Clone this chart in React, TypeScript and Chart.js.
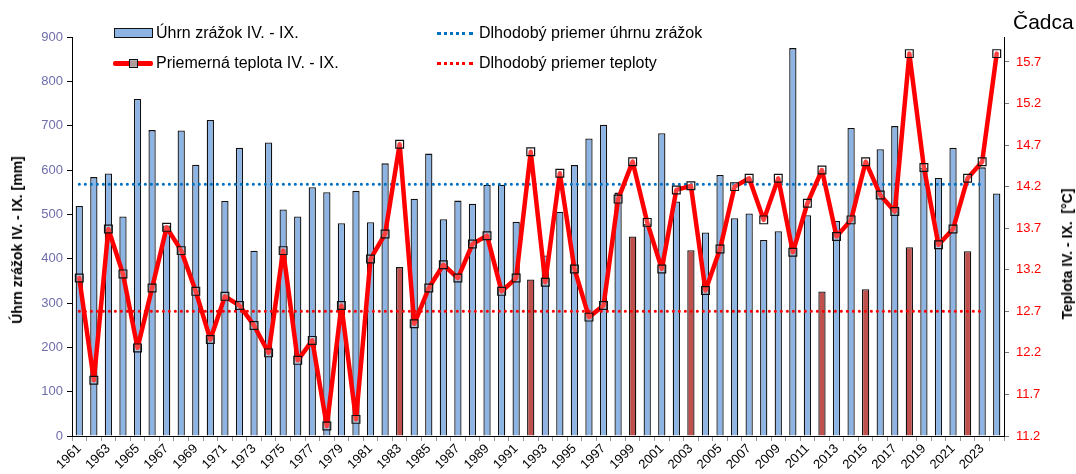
import React, { useEffect, useRef } from 'react';
import { Chart, registerables } from 'chart.js';

Chart.register(...registerables);

const years = [
  '1961', '1962', '1963', '1964', '1965', '1966', '1967', '1968', '1969', '1970',
  '1971', '1972', '1973', '1974', '1975', '1976', '1977', '1978', '1979', '1980',
  '1981', '1982', '1983', '1984', '1985', '1986', '1987', '1988', '1989', '1990',
  '1991', '1992', '1993', '1994', '1995', '1996', '1997', '1998', '1999', '2000',
  '2001', '2002', '2003', '2004', '2005', '2006', '2007', '2008', '2009', '2010',
  '2011', '2012', '2013', '2014', '2015', '2016', '2017', '2018', '2019', '2020',
  '2021', '2022', '2023', '2024',
];

const precipitation = [
  519, 584, 592, 495, 760, 690, 475, 689, 612, 713,
  530, 650, 418, 662, 511, 495, 561, 550, 480, 553,
  482, 615, 381, 535, 637, 489, 531, 524, 567, 567,
  483, 353, 407, 506, 611, 671, 702, 549, 450, 478,
  683, 529, 419, 459, 589, 491, 502, 442, 462, 875,
  498, 326, 485, 695, 331, 647, 699, 426, 605, 582,
  650, 417, 606, 547,
];

const temperature = [
  13.10, 11.87, 13.69, 13.15, 12.26, 12.98, 13.71, 13.43, 12.94, 12.36,
  12.88, 12.77, 12.53, 12.20, 13.43, 12.11, 12.35, 11.32, 12.77, 11.40,
  13.33, 13.63, 14.71, 12.55, 12.98, 13.26, 13.10, 13.51, 13.61, 12.94,
  13.10, 14.62, 13.05, 14.36, 13.21, 12.63, 12.77, 14.05, 14.50, 13.77,
  13.21, 14.16, 14.21, 12.95, 13.45, 14.20, 14.30, 13.80, 14.30, 13.41,
  14.00, 14.40, 13.60, 13.80, 14.50, 14.10, 13.90, 15.80, 14.43, 13.50,
  13.69, 14.30, 14.50, 15.80,
];

const highlightYears = ['1983', '1992', '1999', '2003', '2012', '2015', '2018', '2022'];

const precipMean = 568;
const tempMean = 12.7;
const meanLastYear = '2023';

const precipTicks = [0, 100, 200, 300, 400, 500, 600, 700, 800, 900];
const tempTicks = [11.2, 11.7, 12.2, 12.7, 13.2, 13.7, 14.2, 14.7, 15.2, 15.7];

const FONT = "'Liberation Sans', Arial, Helvetica, sans-serif";
const BLUE = '#8DB4E2';
const BROWN = '#C0504D';

export default function App() {
  const canvasRef = useRef<HTMLCanvasElement | null>(null);

  useEffect(() => {
    const canvas = canvasRef.current;
    if (!canvas) return;
    const lastIdx = years.indexOf(meanLastYear);
    const precipMeanLine = years.map((_, i) => (i <= lastIdx ? precipMean : null));
    const tempMeanLine = years.map((_, i) => (i <= lastIdx ? tempMean : null));
    const barColors = years.map((y) => (highlightYears.includes(y) ? BROWN : BLUE));

    const chart = new Chart(canvas, {
      type: 'bar',
      data: {
        labels: years,
        datasets: [
          {
            type: 'line',
            label: 'Priemerná teplota IV. - IX.',
            data: temperature,
            yAxisID: 'yT',
            borderColor: '#FF0000',
            borderWidth: 4.5,
            borderJoinStyle: 'round',
            borderCapStyle: 'round',
            tension: 0,
            pointStyle: 'rect',
            pointRadius: 5.5,
            pointBorderColor: '#111',
            pointBorderWidth: 1.2,
            pointBackgroundColor: 'rgba(255,255,255,0.25)',
            order: 0,
          } as any,
          {
            type: 'line',
            label: 'Dlhodobý priemer úhrnu zrážok',
            data: precipMeanLine,
            yAxisID: 'yP',
            borderColor: '#0070C0',
            borderWidth: 3,
            borderDash: [0.1, 5.9],
            borderCapStyle: 'round',
            pointRadius: 0,
            order: 1,
          } as any,
          {
            type: 'line',
            label: 'Dlhodobý priemer teploty',
            data: tempMeanLine,
            yAxisID: 'yT',
            borderColor: '#FF0000',
            borderWidth: 3,
            borderDash: [0.1, 5.9],
            borderCapStyle: 'round',
            pointRadius: 0,
            order: 1,
          } as any,
          {
            type: 'bar',
            label: 'Úhrn zrážok IV. - IX.',
            data: precipitation,
            yAxisID: 'yP',
            backgroundColor: barColors,
            borderColor: '#111',
            borderWidth: 1.3,
            categoryPercentage: 1,
            barPercentage: 0.5,
            order: 2,
          } as any,
        ],
      },
      options: {
        responsive: false,
        animation: false,
        devicePixelRatio: 1,
        layout: { padding: { top: 37, left: 0, right: 0, bottom: 0 } },
        plugins: {
          legend: { display: false },
          title: { display: false },
          tooltip: { enabled: false },
        },
        scales: {
          x: {
            type: 'category',
            offset: true,
            grid: {
              display: true,
              drawOnChartArea: false,
              drawTicks: true,
              tickLength: 5,
              color: '#999',
              offset: true,
            },
            border: { display: true, color: '#000', width: 1 },
            ticks: {
              autoSkip: false,
              maxRotation: 45,
              minRotation: 45,
              padding: 0,
              color: '#000',
              font: { family: FONT, size: 13 },
              callback: (_v: any, i: number) => (i % 2 === 0 ? years[i] : ''),
            },
            afterFit: (s: any) => {
              s.height = 38;
            },
          },
          yP: {
            type: 'linear',
            position: 'left',
            min: 0,
            max: 900,
            grid: {
              drawOnChartArea: false,
              drawTicks: true,
              tickLength: 5,
              color: '#000',
            },
            border: { display: true, color: '#000', width: 1 },
            ticks: {
              padding: 4,
              color: '#6E6EAA',
              font: { family: FONT, size: 13 },
              callback: (v: any) => String(v),
            },
            afterBuildTicks: (s: any) => {
              s.ticks = precipTicks.map((v) => ({ value: v }));
            },
            afterFit: (s: any) => {
              s.width = 72;
            },
          },
          yT: {
            type: 'linear',
            position: 'right',
            min: 11.2,
            max: 16.0,
            grid: {
              drawOnChartArea: false,
              drawTicks: true,
              tickLength: 5,
              color: '#777',
            },
            border: { display: true, color: '#000', width: 1 },
            ticks: {
              padding: 7,
              color: '#FF0000',
              font: { family: FONT, size: 13 },
              callback: (v: any) => Number(v).toFixed(1),
            },
            afterBuildTicks: (s: any) => {
              s.ticks = tempTicks.map((v) => ({ value: v }));
            },
            afterFit: (s: any) => {
              s.width = 72;
            },
          },
        },
      },
    });
    return () => chart.destroy();
  }, []);

  const text: React.CSSProperties = {
    position: 'absolute',
    fontFamily: FONT,
    fontSize: '16px',
    color: '#000',
    whiteSpace: 'nowrap',
    lineHeight: '18px',
  };

  return (
    <div
      style={{
        position: 'fixed',
        left: 0,
        top: 0,
        width: 1076,
        height: 474,
        background: '#fff',
        overflow: 'hidden',
      }}
    >
      <canvas ref={canvasRef} width={1076} height={474} style={{ position: 'absolute', left: 0, top: 0 }} />

      {/* legend: left column */}
      <div
        style={{
          position: 'absolute',
          left: 114,
          top: 28,
          width: 37,
          height: 8,
          background: BLUE,
          border: '1.3px solid #111',
        }}
      />
      <div style={{ ...text, left: 156, top: 24 }}>Úhrn zrážok IV. - IX.</div>

      <div style={{ position: 'absolute', left: 113, top: 61, width: 40, height: 4.5, background: '#FF0000', borderRadius: 2 }} />
      <div
        style={{
          position: 'absolute',
          left: 129,
          top: 59,
          width: 7,
          height: 7,
          background: 'rgba(170,170,170,0.9)',
          border: '1.2px solid #111',
        }}
      />
      <div style={{ ...text, left: 156, top: 54 }}>Priemerná teplota IV. - IX.</div>

      {/* legend: right column */}
      <div style={{ position: 'absolute', left: 437, top: 32, width: 36, height: 0, borderTop: '3px dotted #0070C0' }} />
      <div style={{ ...text, left: 479, top: 24 }}>Dlhodobý priemer úhrnu zrážok</div>
      <div style={{ position: 'absolute', left: 437, top: 62, width: 36, height: 0, borderTop: '3px dotted #FF0000' }} />
      <div style={{ ...text, left: 479, top: 54 }}>Dlhodobý priemer teploty</div>

      {/* station title */}
      <div style={{ ...text, left: 1013, top: 10, fontSize: '21px', lineHeight: '24px' }}>Čadca</div>

      {/* axis titles */}
      <div
        style={{
          ...text,
          left: 17,
          top: 240,
          fontSize: '14px',
          fontWeight: 'bold',
          transform: 'translate(-50%, -50%) rotate(-90deg)',
        }}
      >
        Úhrn zrážok IV. - IX. [mm]
      </div>
      <div
        style={{
          ...text,
          left: 1067,
          top: 254,
          fontSize: '14px',
          fontWeight: 'bold',
          transform: 'translate(-50%, -50%) rotate(-90deg)',
        }}
      >
        Teplota IV. - IX.&nbsp; [°C]
      </div>
    </div>
  );
}
